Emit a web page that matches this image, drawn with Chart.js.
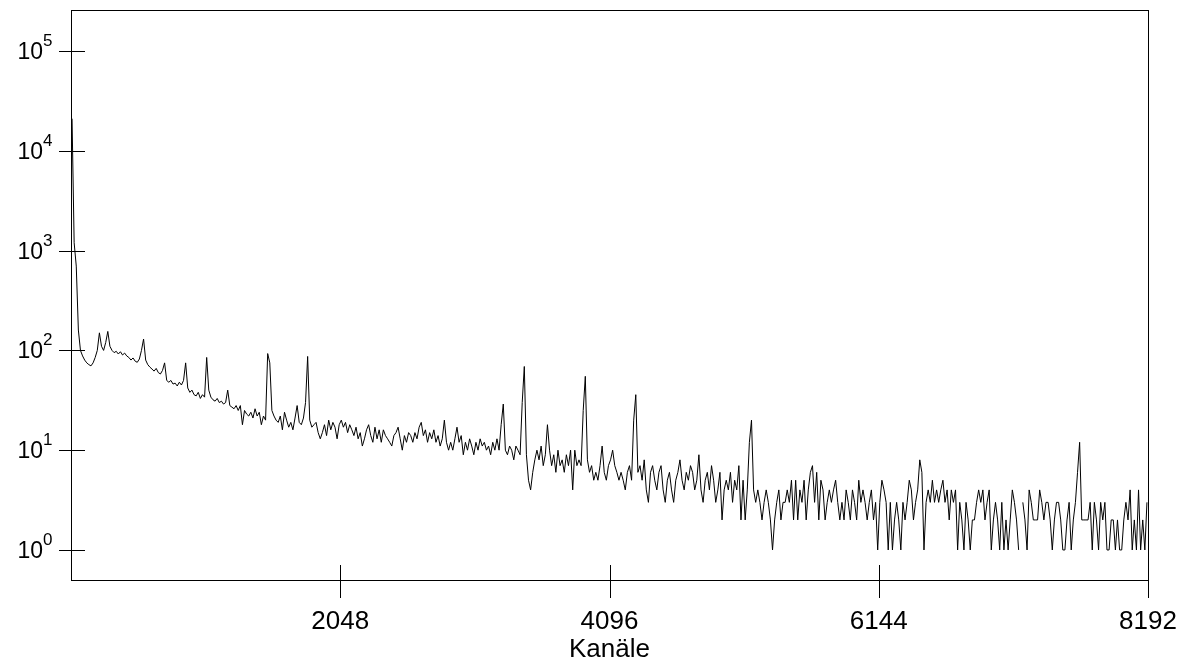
<!DOCTYPE html>
<html>
<head>
<meta charset="utf-8">
<script src="https://cdn.jsdelivr.net/npm/chart.js@4/dist/chart.umd.min.js"></script>
<style>
  body { margin: 0; background: #fff; }
</style>
</head>
<body>
<canvas id="spektrum" width="1187" height="660"></canvas>
<script>
// Kanalbreite eines Punktes (16 Kanäle pro Punkt, 512 Punkte)
const binWidth = 16;

// Zählraten
const counts0 = [
    21000, 1200, 700, 160, 100, 88, 80, 75, 72, 70,
    75, 85, 100, 150, 110, 100, 120, 155, 110, 100,
    95, 98, 92, 97, 90, 94, 88, 85, 80, 84,
    78, 76, 82, 100, 130, 80, 72, 68, 65, 62,
    66, 60, 58, 63, 75, 50, 48, 50, 46, 47,
    44, 48, 45, 50, 75, 42, 38, 40, 36, 35,
    38, 33, 36, 34, 85, 40, 34, 32, 31, 33,
    30, 31, 29, 30, 40, 28, 27, 26, 28, 25,
    28, 18, 25, 23, 22, 24, 21, 26, 22, 24,
    18, 22, 20, 93, 75, 25, 22, 20, 19, 22,
    16, 24, 20, 17, 19, 16, 21, 28, 19, 18,
    21, 30, 87, 20, 17, 18, 19, 15, 13, 15,
    18, 14, 20, 16, 19, 17, 13, 18
];
const counts2048 = [
    20, 17, 19, 15, 18, 16, 14, 17, 13, 15,
    11, 13, 16, 18, 14, 12, 17, 13, 16, 12,
    16, 14, 13, 12, 11, 14, 15, 17, 13, 10,
    14, 12, 15, 14, 12, 15, 13, 17, 19, 14,
    16, 12, 15, 13, 16, 12, 14, 11, 13, 20,
    12, 10, 12, 10, 13, 17, 12, 14, 9, 12,
    10, 13, 11, 9, 12, 10, 13, 11, 12, 10,
    11, 9, 12, 10, 13, 10, 18, 29, 10, 9,
    11, 10, 8, 11, 10, 9, 30, 69, 9, 5,
    4, 6, 8, 10, 8, 11, 7, 9, 18, 10,
    7, 9, 6, 10, 7, 8, 6, 9, 7, 10,
    4, 10, 7, 8, 7, 25, 55, 8, 6, 7,
    5, 6, 5, 7, 11, 6, 5, 7
];
const counts4096 = [
    8, 10, 7, 6, 5, 6, 5, 4, 6, 7,
    5, 20, 36, 6, 7, 5, 8, 4, 3, 6,
    7, 5, 4, 6, 7, 4, 3, 5, 6, 4,
    3, 5, 6, 8, 5, 4, 6, 5, 7, 6,
    4, 5, 9, 4, 3, 5, 6, 4, 7, 5,
    3, 4, 6, 2, 4, 5, 4, 6, 3, 5,
    4, 7, 2, 5, 2, 4, 12, 20, 4, 3,
    4, 3, 2, 3, 4, 3, 2, 1, 2, 3,
    4, 2, 3, 3, 4, 3, 5, 2, 5, 2,
    4, 3, 5, 2, 4, 6, 7, 3, 6, 2,
    5, 4, 2, 3, 4, 3, 4, 5, 3, 2,
    3, 2, 4, 3, 2, 4, 3, 2, 5, 3,
    4, 3, 2, 3, 4, 2, 3, 1
];
const counts6144 = [
    3, 5, 4, 3, 1, 3, 1, 2, 3, 2,
    1, 3, 2, 3, 5, 4, 2, 3, 4, 8,
    6, 1, 3, 4, 3, 5, 3, 4, 3, 4,
    5, 3, 4, 2, 4, 3, 4, 1, 3, 2,
    1, 3, 2, 1, 2, 2, 3, 4, 3, 4,
    2, 3, 4, 1, 2, 3, 2, 1, 3, 1,
    2, 1, 2, 4, 3, 2, 1, 0, 3, 2,
    1, 4, 3, 2, 2, 2, 4, 3, 2, 3,
    3, 2, 1, 2, 3, 3, 2, 1, 1, 2,
    3, 1, 2, 3, 6, 12, 2, 2, 2, 2,
    3, 1, 3, 2, 1, 3, 2, 3, 1, 1,
    2, 2, 1, 2, 1, 1, 2, 3, 2, 4,
    1, 2, 1, 4, 1, 2, 1, 3
];

const xTicks = [2048, 4096, 6144, 8192];
const yExponents = [0, 1, 2, 3, 4, 5];

const counts = counts0.concat(counts2048, counts4096, counts6144);
const points = counts.map((c, i) => ({ x: i * binWidth + binWidth / 2, y: c }));

const achsen = {
    id: "achsen",
    afterDraw(chart) {
        const { ctx, chartArea: a, scales: { x, y } } = chart;
        ctx.save();
        ctx.strokeStyle = "#000";
        ctx.lineWidth = 1;
        ctx.strokeRect(a.left + 0.5, a.top + 0.5, a.right - a.left, a.bottom - a.top);

        ctx.fillStyle = "#000";
        ctx.beginPath();
        yExponents.forEach(k => {
            const py = Math.round(y.getPixelForValue(Math.pow(10, k))) + 0.5;
            ctx.moveTo(a.left - 12, py);
            ctx.lineTo(a.left + 14, py);
        });
        xTicks.forEach(v => {
            const px = Math.round(x.getPixelForValue(v)) + 0.5;
            ctx.moveTo(px, a.bottom - 15);
            ctx.lineTo(px, a.bottom + 18);
        });
        ctx.stroke();

        // y-Beschriftung 10^k
        yExponents.forEach(k => {
            const py = Math.round(y.getPixelForValue(Math.pow(10, k)));
            ctx.font = '23px "Liberation Sans", Arial, sans-serif';
            ctx.textAlign = "right";
            ctx.textBaseline = "alphabetic";
            ctx.fillText("10", 43, py + 8);
            ctx.font = '17px "Liberation Sans", Arial, sans-serif';
            ctx.textAlign = "left";
            ctx.fillText(String(k), 43, py - 5);
        });

        // x-Beschriftung
        ctx.font = '26px "Liberation Sans", Arial, sans-serif';
        ctx.textAlign = "center";
        ctx.textBaseline = "alphabetic";
        xTicks.forEach(v => {
            ctx.fillText(String(v), x.getPixelForValue(v), 629);
        });
        ctx.fillText("Kanäle", (a.left + a.right) / 2, 657);
        ctx.restore();
    }
};

new Chart(document.getElementById("spektrum"), {
    type: "line",
    data: {
        datasets: [{
            data: points,
            borderColor: "#000",
            borderWidth: 1,
            pointRadius: 0,
            tension: 0,
            fill: false
        }]
    },
    options: {
        responsive: false,
        devicePixelRatio: 1,
        animation: false,
        layout: { padding: { left: 71, right: 39, top: 10, bottom: 80 } },
        plugins: {
            legend: { display: false },
            tooltip: { enabled: false }
        },
        scales: {
            x: { type: "linear", min: 0, max: 8192, display: false },
            y: { type: "logarithmic", min: 0.5, max: 2.58e5, display: false }
        }
    },
    plugins: [achsen]
});
</script>
</body>
</html>
